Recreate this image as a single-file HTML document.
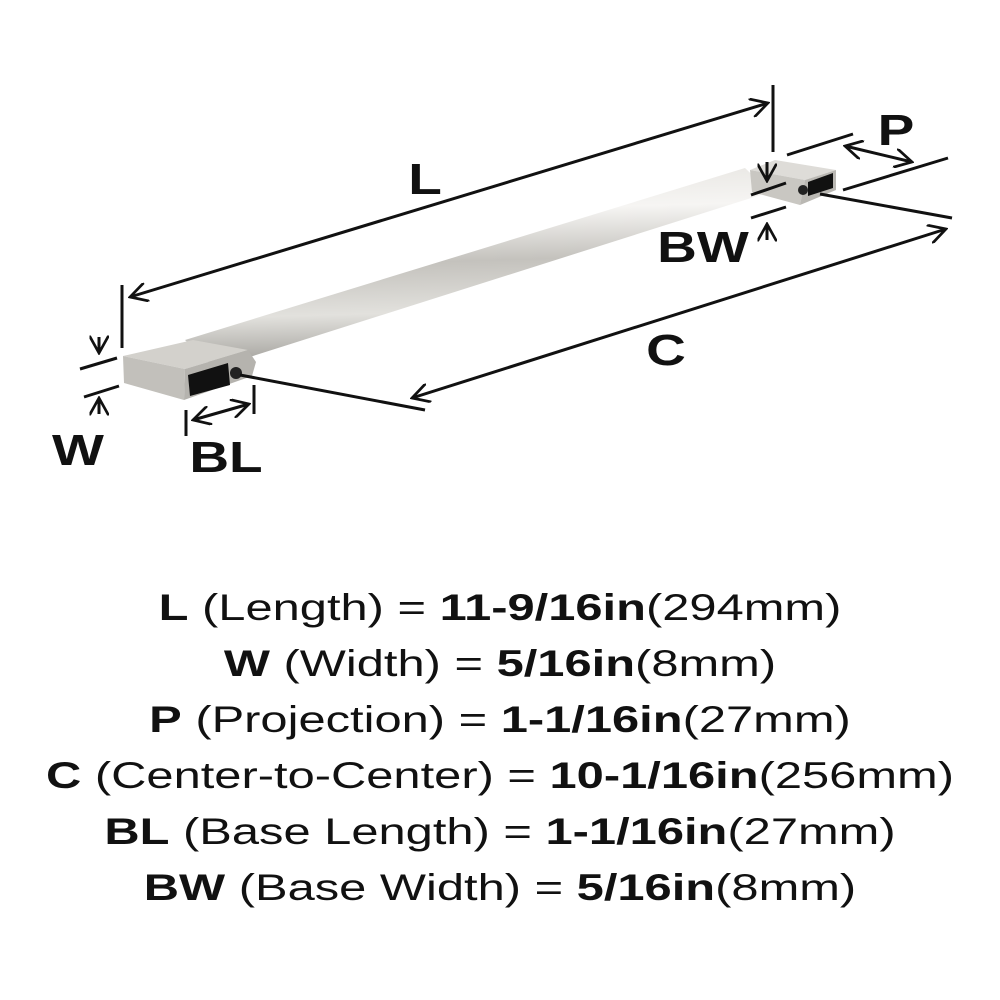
<!DOCTYPE html>
<html><head><style>
html,body{margin:0;padding:0;background:#fff;}
body{width:1000px;height:1000px;position:relative;overflow:hidden;font-family:"Liberation Sans",sans-serif;color:#111;}
.t{position:absolute;left:0;width:1000px;text-align:center;font-size:37px;line-height:40px;white-space:nowrap;transform:scaleX(1.32);transform-origin:500px 0;}
b{font-weight:bold;}
</style></head><body>
<svg width="1000" height="560" style="position:absolute;left:0;top:0">
<defs>
<linearGradient id="bar" x1="0" y1="0" x2="0.08" y2="1">
<stop offset="0" stop-color="#e6e4e0"/><stop offset="0.25" stop-color="#f6f5f3"/><stop offset="0.5" stop-color="#c4c2bd"/><stop offset="0.75" stop-color="#e2e1dd"/><stop offset="1" stop-color="#9e9c97"/></linearGradient>
<marker id="ah" viewBox="0 0 10 10" refX="9" refY="5" markerWidth="6.5" markerHeight="6.5" orient="auto-start-reverse"><path d="M0,0 L9,5 L0,10" fill="none" stroke="#111" stroke-width="1.4"/></marker>
</defs>
<polygon points="185,340 745,168 770,192 215,368" fill="url(#bar)"/>
<polygon points="123,356 193,340 248,350 185,369" fill="#d3d1cc"/>
<polygon points="123,356 185,369 184,400 124,383" fill="#c2c0bb"/>
<polygon points="185,369 248,350 256,362 252,376 184,400" fill="#b5b3ae"/>
<polygon points="188,375 228,363 230,385 190,396" fill="#111"/>
<circle cx="236" cy="373" r="6" fill="#222"/>
<polygon points="750,170 775,160 836,170 805,180" fill="#dedcd8"/>
<polygon points="750,170 805,180 800,205 752,192" fill="#c9c7c2"/>
<polygon points="805,180 836,170 836,190 800,205" fill="#bab8b3"/>
<polygon points="808,182 833,173 833,188 808,196" fill="#111"/>
<circle cx="803" cy="190" r="5" fill="#222"/>
<g stroke="#111" stroke-width="3" fill="none" stroke-linecap="butt">
<line x1="122" y1="285" x2="122" y2="348"/>
<line x1="773" y1="85" x2="773" y2="152"/>
<line x1="130" y1="297" x2="768" y2="103" marker-start="url(#ah)" marker-end="url(#ah)"/>
<line x1="240" y1="375" x2="425" y2="410"/>
<line x1="820" y1="194" x2="952" y2="218"/>
<line x1="412" y1="398" x2="946" y2="229" marker-start="url(#ah)" marker-end="url(#ah)"/>
<line x1="99" y1="337" x2="99" y2="353" marker-end="url(#ah)"/>
<line x1="80" y1="369" x2="117" y2="358"/>
<line x1="84" y1="397" x2="119" y2="386"/>
<line x1="99" y1="414" x2="99" y2="398" marker-end="url(#ah)"/>
<line x1="186" y1="410" x2="186" y2="436"/>
<line x1="254" y1="385" x2="254" y2="414"/>
<line x1="193" y1="420" x2="249" y2="404" marker-start="url(#ah)" marker-end="url(#ah)"/>
<line x1="787" y1="155" x2="853" y2="134"/>
<line x1="843" y1="190" x2="948" y2="158"/>
<line x1="845" y1="146" x2="912" y2="162" marker-start="url(#ah)" marker-end="url(#ah)"/>
<line x1="767" y1="162" x2="767" y2="181" marker-end="url(#ah)"/>
<line x1="751" y1="195" x2="786" y2="183"/>
<line x1="751" y1="218" x2="786" y2="207"/>
<line x1="767" y1="240" x2="767" y2="224" marker-end="url(#ah)"/>
</g>
<g font-family="Liberation Sans, sans-serif" font-weight="bold" font-size="44" fill="#111" text-anchor="middle">
<text x="425" y="194" transform="translate(425 0) scale(1.25 1) translate(-425 0)">L</text>
<text x="666" y="365" transform="translate(666 0) scale(1.25 1) translate(-666 0)">C</text>
<text x="896" y="145" transform="translate(896 0) scale(1.25 1) translate(-896 0)">P</text>
<text x="703" y="262" transform="translate(703 0) scale(1.25 1) translate(-703 0)">BW</text>
<text x="78" y="465" transform="translate(78 0) scale(1.25 1) translate(-78 0)">W</text>
<text x="226" y="472" transform="translate(226 0) scale(1.25 1) translate(-226 0)">BL</text>
</g>
</svg>
<div class="t" style="top:588px"><b>L</b> (Length) = <b>11-9/16in</b>(294mm)</div>
<div class="t" style="top:644px"><b>W</b> (Width) = <b>5/16in</b>(8mm)</div>
<div class="t" style="top:700px"><b>P</b> (Projection) = <b>1-1/16in</b>(27mm)</div>
<div class="t" style="top:756px"><b>C</b> (Center-to-Center) = <b>10-1/16in</b>(256mm)</div>
<div class="t" style="top:812px"><b>BL</b> (Base Length) = <b>1-1/16in</b>(27mm)</div>
<div class="t" style="top:868px"><b>BW</b> (Base Width) = <b>5/16in</b>(8mm)</div>
</body></html>
